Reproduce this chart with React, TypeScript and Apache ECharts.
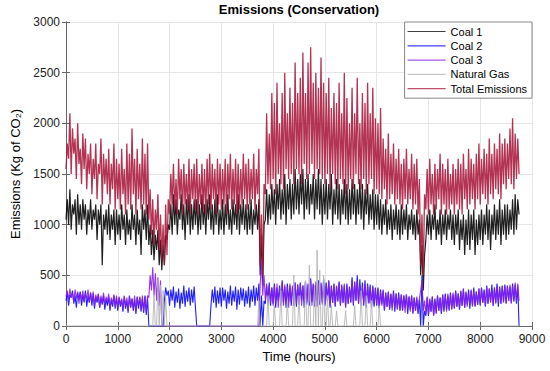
import React, { useEffect, useRef } from "react";
import * as echarts from "echarts";

const STEP_HOURS = 25;

const coal1: number[] = [
  1050,1250,1000,1350,950,1200,1100,1250,900,1300,1000,1200,950,1250,1050,1200,900,1150,1000,1250,
  950,1150,1050,1200,850,1150,1000,1200,600,1100,950,1150,900,1200,850,1100,950,1150,800,1150,
  900,1100,850,1200,950,1100,800,1150,900,1050,850,1200,950,1100,800,1150,900,1050,700,1200,
  950,1150,850,1200,800,1000,700,950,650,900,750,950,600,850,550,800,600,900,850,1000,
  950,1200,900,1300,1000,1250,900,1150,1050,1300,950,1200,850,1250,1000,1300,900,1200,950,1250,
  1000,1250,900,1200,950,1300,1000,1200,900,1250,1050,1300,950,1200,900,1250,1000,1300,900,1150,
  950,1250,900,1200,1000,1300,950,1150,900,1250,1000,1200,950,1300,900,1200,1000,1250,950,1200,
  900,1200,950,1250,900,1150,1000,1200,950,1250,500,900,400,1000,1050,1350,1000,1300,1050,1400,
  1100,1350,1000,1400,1150,1450,1050,1350,1100,1500,1000,1400,1150,1450,1050,1400,1100,1550,1150,1450,
  1100,1500,1200,1550,1050,1450,1150,1500,1100,1400,1200,1500,1050,1450,1150,1550,1100,1450,1000,1400,
  1100,1450,1050,1400,1150,1500,1000,1350,1100,1450,1050,1400,1000,1350,1100,1450,1050,1400,1000,1350,
  1050,1450,1100,1400,1000,1350,1100,1450,1050,1400,950,1350,1100,1400,1000,1300,1050,1350,950,1300,
  1000,1300,950,1250,900,1200,1000,1250,900,1150,950,1200,850,1150,950,1200,900,1150,850,1200,
  900,1150,950,1200,850,1100,950,1150,900,1100,850,1150,900,1050,500,800,350,700,850,1100,
  900,1150,850,1100,950,1200,850,1050,900,1150,800,1100,900,1150,850,1100,950,1150,850,1100,
  800,1100,900,1150,750,1050,850,1100,700,1050,800,1150,750,1100,850,1150,700,1050,800,1100,
  850,1150,800,1100,900,1200,850,1150,750,1100,900,1200,850,1150,900,1250,800,1150,900,1200,
  850,1200,900,1150,950,1250,900,1300,950,1250,1100,
];

const coal2: number[] = [
  250,330,200,310,280,350,220,300,180,330,260,340,200,310,240,350,190,300,230,330,
  200,320,170,290,230,310,180,280,210,300,160,270,200,290,150,260,190,300,170,280,
  150,280,190,260,140,290,170,250,130,300,180,270,150,260,120,290,170,280,140,270,
  130,300,110,280,0,0,0,0,0,0,0,0,0,0,0,0,250,380,300,350,
  200,360,250,390,180,340,230,370,170,330,220,400,190,350,240,380,200,360,230,390,
  180,0,0,0,0,0,0,0,0,0,0,0,200,360,230,390,180,350,220,380,
  190,380,250,360,170,340,220,400,200,350,240,390,160,360,210,380,250,370,190,350,
  220,390,180,360,240,400,200,380,250,420,0,300,0,250,220,400,250,430,200,380,
  220,420,180,380,250,400,200,450,230,390,180,420,240,400,200,380,260,430,190,410,
  210,430,250,400,180,440,230,410,200,470,240,420,190,400,250,450,210,420,230,470,
  200,430,240,450,180,400,230,420,190,390,250,440,200,410,230,400,180,420,220,390,
  230,480,200,440,250,500,220,460,240,430,200,450,180,420,230,410,200,400,190,380,
  200,380,170,360,220,350,150,330,190,340,160,320,180,350,140,320,170,330,150,310,
  150,300,180,310,120,290,160,300,130,280,150,270,120,260,0,500,0,150,100,280,
  100,260,140,290,110,270,130,300,150,280,120,310,140,320,160,300,150,330,170,310,
  170,350,190,320,160,340,200,370,180,330,210,360,170,350,200,380,190,340,210,370,
  200,380,230,360,190,400,220,370,240,410,200,380,230,420,190,390,220,400,240,410,
  220,400,250,390,230,420,240,410,220,400,0,
];

const coal3: number[] = [
  290,350,250,370,280,330,240,360,270,340,220,330,260,350,230,320,270,360,240,330,
  230,340,200,310,250,320,180,300,230,330,200,290,240,320,170,280,220,310,190,300,
  180,290,210,270,160,300,200,280,150,290,190,270,170,300,140,280,200,290,160,300,
  150,290,130,300,280,500,350,580,300,520,250,480,200,450,0,0,0,0,0,0,
  0,0,0,0,0,0,0,0,0,0,0,0,0,0,0,0,0,0,0,0,
  0,0,0,0,0,0,0,0,0,0,0,0,0,0,0,0,0,0,0,0,
  0,0,0,0,0,0,0,0,0,0,0,0,0,0,0,0,0,0,0,0,
  0,0,0,0,0,0,0,0,0,0,400,650,300,500,250,420,200,400,230,380,
  200,400,230,420,180,380,250,430,200,410,220,390,180,420,240,400,200,430,220,410,
  230,420,200,400,250,440,210,420,240,450,200,410,230,440,190,420,250,430,210,400,
  220,420,250,440,200,390,230,410,200,400,240,430,210,390,230,420,190,400,220,380,
  240,460,220,430,250,450,220,410,200,390,230,420,200,400,220,390,180,380,210,370,
  210,370,180,340,200,360,160,320,190,330,170,310,150,330,180,320,160,300,150,310,
  160,300,130,310,170,290,140,300,120,280,150,290,130,270,350,450,150,250,120,290,
  110,270,140,290,100,250,120,300,150,280,130,310,160,300,140,320,170,310,160,330,
  180,340,190,320,170,350,200,360,180,340,190,330,210,360,190,350,200,340,210,370,
  210,370,230,350,200,390,220,370,230,360,200,380,220,400,240,380,220,390,230,400,
  230,390,250,410,220,400,260,430,240,420,250,
];

// Natural gas is zero except at these hours
const naturalGasHours: number[] = [
  1700,1775,1825,1875,1925,3725,3900,4025,4150,4275,4400,4500,4625,4700,
  4800,4850,4900,4975,5050,5125,5225,5400,5575,5700,5800,5900,6050,
];
const naturalGasValues: number[] = [
  300,450,400,350,300,250,300,200,350,250,500,300,450,600,
  400,750,550,500,300,200,150,150,200,350,300,250,200,
];

const totalEmissions: number[] = [
  1550,1800,1650,2100,1500,1950,1700,1850,1450,2000,1600,1750,1400,1900,1550,1850,1350,1700,1500,1800,
  1300,1650,1450,1800,1250,1600,1500,1850,1200,1700,1400,1650,1300,1750,1200,1600,1350,1800,1150,1650,
  1250,1600,1150,1750,1300,1550,1100,1800,1200,1700,1150,1950,1300,1650,1100,1750,1250,1600,1150,1850,
  1200,1700,1100,1800,1050,1350,900,1250,800,1150,950,1300,750,1100,650,1000,600,1200,700,1250,
  1100,1500,1200,1600,1150,1450,1100,1650,1250,1550,1100,1600,1200,1500,1150,1650,1100,1550,1250,1600,
  1150,1650,1100,1500,1200,1600,1150,1550,1100,1650,1200,1700,1150,1600,1250,1550,1100,1650,1200,1600,
  1150,1550,1200,1650,1100,1600,1250,1700,1150,1550,1200,1650,1100,1600,1150,1550,1200,1700,1250,1600,
  1150,1650,1200,1550,1250,1700,1150,1550,1300,1750,600,1100,500,1400,1300,2100,1400,1900,1350,2300,
  1450,2200,1300,2400,1500,2000,1400,2300,1350,2500,1550,2100,1450,2350,1500,2200,1400,2600,1550,2300,
  1500,2450,1400,2700,1600,2300,1450,2600,1500,2750,1600,2400,1450,2500,1550,2350,1500,2650,1450,2400,
  1400,2300,1500,2450,1350,2150,1500,2300,1400,2200,1350,2400,1450,2100,1400,2500,1300,2250,1350,2000,
  1450,2350,1350,2100,1500,2450,1400,2000,1350,2300,1450,2200,1300,2400,1400,2100,1450,2350,1300,2050,
  1350,2000,1300,2150,1250,1850,1350,1750,1200,1900,1250,1700,1300,1800,1200,1650,1250,1750,1200,1600,
  1150,1650,1250,1750,1200,1550,1250,1700,1150,1600,1200,1650,1100,1450,600,1100,500,1300,1150,1550,
  1100,1650,1200,1500,1100,1600,1150,1550,1250,1700,1100,1600,1200,1550,1100,1650,1150,1500,1200,1600,
  1100,1550,1200,1650,1150,1600,1100,1700,1250,1550,1150,1750,1200,1650,1250,1600,1150,1700,1250,1800,
  1200,1650,1300,1750,1250,1700,1200,1850,1300,1700,1250,1800,1350,1750,1300,1900,1250,1800,1400,1850,
  1350,1800,1450,1950,1400,2050,1350,1900,1450,1850,1500,
];

const seriesNames = ["Coal 1", "Coal 2", "Coal 3", "Natural Gas", "Total Emissions"];
const seriesColors = ["#000000", "#0000ff", "#8a1ee6", "#b4b4b4", "#a8173a"];
const seriesWidths = [1.2, 1.1, 1.1, 1, 1.3];
const yTicks = { min: 0, max: 3000, interval: 500 };
const xTicks = { min: 0, max: 9000, interval: 1000 };

const toPairs = (arr: number[]) => arr.map((v, i) => [i * STEP_HOURS, v]);
const naturalGas: number[] = totalEmissions.map((_, i) => {
  const k = naturalGasHours.indexOf(i * STEP_HOURS);
  return k >= 0 ? naturalGasValues[k] : 0;
});

export default function App() {
  const ref = useRef<HTMLDivElement>(null);
  useEffect(() => {
    if (!ref.current) return;
    const chart = echarts.init(ref.current, undefined, { renderer: "svg" });
    const font = "Liberation Sans, Arial, Helvetica, sans-serif";
    const axisColor = "#666666";
    const all = [coal1, coal2, coal3, naturalGas, totalEmissions];
    const plain = (v: number) => String(v);
    chart.setOption({
      animation: false,
      backgroundColor: "#ffffff",
      textStyle: { fontFamily: font },
      title: {
        text: "Emissions (Conservation)",
        left: 299,
        textAlign: "center",
        top: 3,
        padding: 0,
        textStyle: { fontSize: 13, fontWeight: "bold", color: "#000", fontFamily: font },
      },
      legend: {
        orient: "vertical",
        right: 18,
        top: 22,
        padding: [3, 5, 3, 3],
        itemGap: 1.3,
        itemWidth: 38,
        itemHeight: 1.2,
        itemTextGap: 4,
        icon: "rect",
        backgroundColor: "#ffffff",
        borderColor: "#888888",
        borderWidth: 1,
        borderRadius: 0,
        textStyle: { fontSize: 11, color: "#000", fontFamily: font, lineHeight: 13 },
        data: seriesNames.map((n, i) => ({ name: n, itemStyle: { color: seriesColors[i], opacity: 0.75 } })),
        z: 10,
      },
      grid: { left: 66, right: 18, top: 22, bottom: 45, show: false },
      xAxis: [
        {
          type: "value",
          ...xTicks,
          name: "Time (hours)",
          nameLocation: "middle",
          nameGap: 24,
          nameTextStyle: { fontSize: 13, color: "#000", fontFamily: font },
          axisLine: { show: true, lineStyle: { color: axisColor } },
          axisTick: { show: true, inside: true, length: 4, lineStyle: { color: axisColor } },
          axisLabel: { fontSize: 12, color: "#222", margin: 7, fontFamily: font, formatter: plain },
          splitLine: { show: true, lineStyle: { color: "#e6e6e6" } },
        },
        {
          type: "value",
          ...xTicks,
          position: "top",
          axisLine: { show: true, lineStyle: { color: axisColor } },
          axisTick: { show: true, inside: true, length: 4, lineStyle: { color: axisColor } },
          axisLabel: { show: false },
          splitLine: { show: false },
        },
      ],
      yAxis: [
        {
          type: "value",
          ...yTicks,
          name: "Emissions (Kg of CO\u2082)",
          nameLocation: "middle",
          nameGap: 38,
          nameTextStyle: { fontSize: 13, color: "#000", fontFamily: font },
          axisLine: { show: true, lineStyle: { color: axisColor } },
          axisTick: { show: true, inside: true, length: 4, lineStyle: { color: axisColor } },
          axisLabel: { fontSize: 12, color: "#222", margin: 6, fontFamily: font, formatter: plain },
          splitLine: { show: true, lineStyle: { color: "#e6e6e6" } },
        },
        {
          type: "value",
          ...yTicks,
          position: "right",
          axisLine: { show: true, lineStyle: { color: axisColor } },
          axisTick: { show: true, inside: true, length: 4, lineStyle: { color: axisColor } },
          axisLabel: { show: false },
          splitLine: { show: false },
        },
      ],
      series: all.map((arr, i) => ({
        name: seriesNames[i],
        type: "line",
        xAxisIndex: 0,
        yAxisIndex: 0,
        data: toPairs(arr),
        symbol: "none",
        showSymbol: false,
        color: seriesColors[i],
        lineStyle: { width: seriesWidths[i], color: seriesColors[i], opacity: 0.88 },
        emphasis: { disabled: true },
      })),
    });
    return () => chart.dispose();
  }, []);
  return (
    <div
      ref={ref}
      style={{ position: "fixed", left: 0, top: 0, width: 550, height: 371 }}
    />
  );
}
